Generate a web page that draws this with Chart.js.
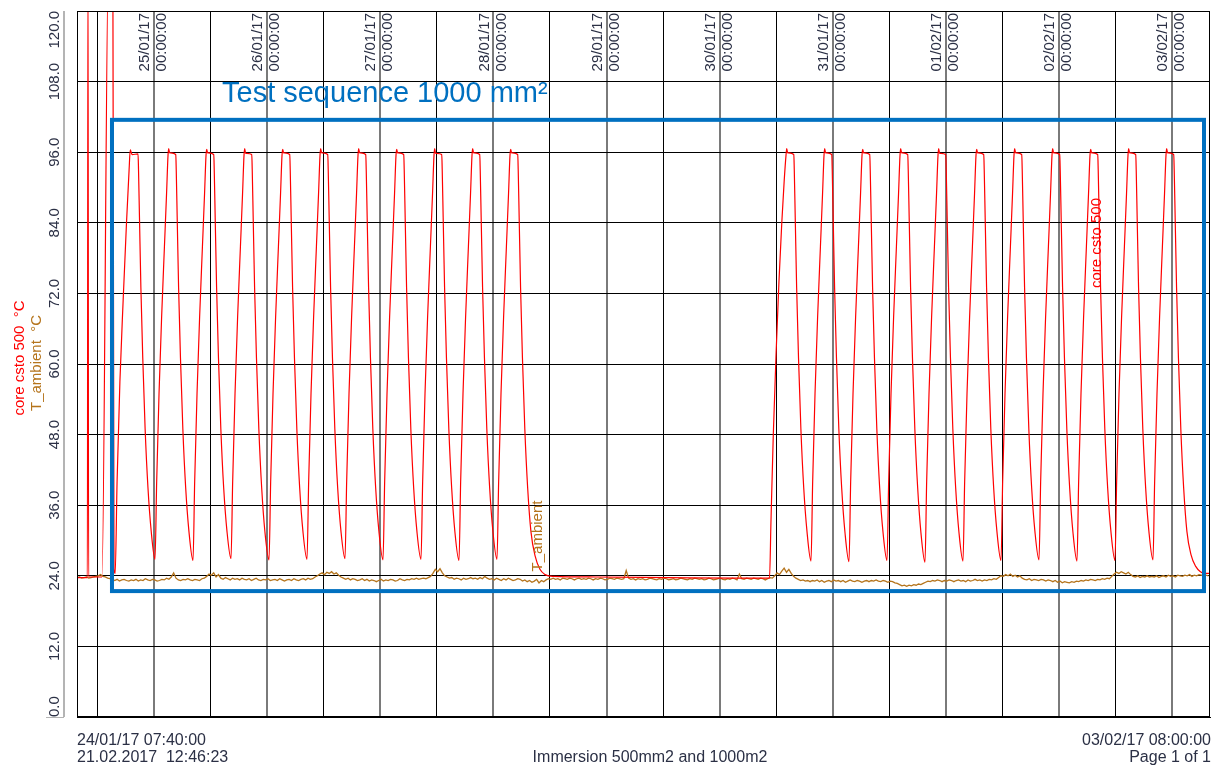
<!DOCTYPE html>
<html><head><meta charset="utf-8">
<script src="https://cdn.jsdelivr.net/npm/chart.js@4"></script>
<style>html,body{margin:0;padding:0;background:#fff}#wrap{width:1215px;height:766px;position:relative}</style>
</head><body><div id="wrap"><canvas id="c"></canvas></div>
<script>
// ---- data (hours after 24/01/17 07:40:00) ----
const totalHours = 240.3333;
const gridHours = [4.3333,16.3333,28.3333,40.3333,52.3333,64.3333,76.3333,88.3333,100.3333,112.3333,124.3333,136.3333,148.3333,160.3333,172.3333,184.3333,196.3333,208.3333,220.3333,232.3333];
const dayLabelHours = [16.3333,40.3333,64.3333,88.3333,112.3333,136.3333,160.3333,184.3333,208.3333,232.3333];
const dayLabels = ['25/01/17','26/01/17','27/01/17','28/01/17','29/01/17','30/01/17','31/01/17','01/02/17','02/02/17','03/02/17'];
const timeLabel = '00:00:00';
const yTicks = [0,12,24,36,48,60,72,84,96,108,120];
const boxHours = [7.42, 239.06];
const boxTemps = [21.4, 101.5];

const coreCsto500 = [
[0,23.7],[2.2,23.7],[2.33,130],[2.46,23.8],[5.3,23.8],[6.7,130],[7.6,130],[7.85,25.2],[8.1,24.4],
[8.5,40],[9.1,57],[9.8,71],[10.5,84],[11.05,93],[11.3,96.4],[11.45,96.1],[11.7,95.6],[12.95,95.7],
[13.05,93],[13.25,85],[13.55,73],[13.95,61],[14.45,49],[15.05,39],[15.75,31.5],[16.55,26.8],
[16.90,40],[17.40,55],[17.95,68],[18.55,80],[19.00,89],[19.31,95.5],[19.45,96.6],[19.65,95.9],[20.95,95.6],[21.05,93],[21.25,85],[21.55,73],[21.95,61],[22.45,49],[23.05,39],[23.75,31.5],[24.61,26.6],
[24.96,40],[25.46,55],[26.01,68],[26.61,80],[27.06,89],[27.37,95.5],[27.51,96.5],[27.71,95.9],[29.01,95.6],[29.11,93],[29.31,85],[29.61,73],[30.01,61],[30.51,49],[31.11,39],[31.81,31.6],[32.67,26.9],
[33.02,40],[33.52,55],[34.07,68],[34.67,80],[35.12,89],[35.43,95.5],[35.57,96.6],[35.77,95.8],[37.07,95.6],[37.17,93],[37.37,85],[37.67,73],[38.07,61],[38.57,49],[39.17,39],[39.87,31.4],[40.73,26.7],
[41.08,40],[41.58,55],[42.13,68],[42.73,80],[43.18,89],[43.49,95.5],[43.63,96.5],[43.83,95.9],[45.13,95.6],[45.23,93],[45.43,85],[45.73,73],[46.13,61],[46.63,49],[47.23,39],[47.93,31.5],[48.79,26.8],
[49.14,40],[49.64,55],[50.19,68],[50.79,80],[51.24,89],[51.55,95.5],[51.69,96.6],[51.89,95.9],[53.19,95.6],[53.29,93],[53.49,85],[53.79,73],[54.19,61],[54.69,49],[55.29,39],[55.99,31.6],[56.85,26.9],
[57.20,40],[57.70,55],[58.25,68],[58.85,80],[59.30,89],[59.61,95.5],[59.75,96.6],[59.95,95.9],[61.25,95.6],[61.35,93],[61.55,85],[61.85,73],[62.25,61],[62.75,49],[63.35,39],[64.05,31.5],[64.91,26.7],
[65.26,40],[65.76,55],[66.31,68],[66.91,80],[67.36,89],[67.67,95.5],[67.81,96.5],[68.01,95.9],[69.31,95.6],[69.41,93],[69.61,85],[69.91,73],[70.31,61],[70.81,49],[71.41,39],[72.11,31.5],[72.97,26.8],
[73.32,40],[73.82,55],[74.37,68],[74.97,80],[75.42,89],[75.73,95.5],[75.87,96.6],[76.07,95.8],[77.37,95.6],[77.47,93],[77.67,85],[77.97,73],[78.37,61],[78.87,49],[79.47,39],[80.17,31.4],[81.03,26.6],
[81.38,40],[81.88,55],[82.43,68],[83.03,80],[83.48,89],[83.79,95.5],[83.93,96.6],[84.13,95.9],[85.43,95.6],[85.53,93],[85.73,85],[86.03,73],[86.43,61],[86.93,49],[87.53,39],[88.23,31.5],[89.09,26.8],
[89.44,40],[89.94,55],[90.49,68],[91.09,80],[91.54,89],[91.85,95.5],[91.99,96.5],[92.19,95.9],[93.49,95.6],[93.59,93],[93.79,85],[94.09,73],[94.49,61],[94.99,49],[95.59,39],[96.29,31.5],[97.2,27.3],[98.2,25.1],[99.3,24.2],[101.0,23.9],[110.0,23.8],[125.0,23.7],[140.0,23.6],[146.9,23.6],
[147.2,33],[147.7,48],[148.3,62],[148.9,74],[149.5,84],[150.0,91],[150.4,95.5],[150.55,96.6],[150.75,95.9],[152.05,95.6],[152.15,93],[152.35,85],[152.65,73],[153.05,61],[153.55,49],[154.15,39],[154.85,31.5],[155.70,26.5],
[156.05,40],[156.55,55],[157.10,68],[157.70,80],[158.15,89],[158.46,95.5],[158.60,96.6],[158.80,95.9],[160.10,95.6],[160.20,93],[160.40,85],[160.70,73],[161.10,61],[161.60,49],[162.20,39],[162.90,31.4],[163.76,26.4],
[164.11,40],[164.61,55],[165.16,68],[165.76,80],[166.21,89],[166.52,95.5],[166.66,96.5],[166.86,95.9],[168.16,95.6],[168.26,93],[168.46,85],[168.76,73],[169.16,61],[169.66,49],[170.26,39],[170.96,31.5],[171.82,26.6],
[172.17,40],[172.67,55],[173.22,68],[173.82,80],[174.27,89],[174.58,95.5],[174.72,96.6],[174.92,95.9],[176.22,95.6],[176.32,93],[176.52,85],[176.82,73],[177.22,61],[177.72,49],[178.32,39],[179.02,31.3],[179.88,26.3],
[180.23,40],[180.73,55],[181.28,68],[181.88,80],[182.33,89],[182.64,95.5],[182.78,96.6],[182.98,95.8],[184.28,95.6],[184.38,93],[184.58,85],[184.88,73],[185.28,61],[185.78,49],[186.38,39],[187.08,31.4],[187.94,26.5],
[188.29,40],[188.79,55],[189.34,68],[189.94,80],[190.39,89],[190.70,95.5],[190.84,96.5],[191.04,95.9],[192.34,95.6],[192.44,93],[192.64,85],[192.94,73],[193.34,61],[193.84,49],[194.44,39],[195.14,31.5],[196.00,26.6],
[196.35,40],[196.85,55],[197.40,68],[198.00,80],[198.45,89],[198.76,95.5],[198.90,96.6],[199.10,95.9],[200.40,95.6],[200.50,93],[200.70,85],[201.00,73],[201.40,61],[201.90,49],[202.50,39],[203.20,31.5],[204.06,26.7],
[204.41,40],[204.91,55],[205.46,68],[206.06,80],[206.51,89],[206.82,95.5],[206.96,96.6],[207.16,95.9],[208.46,95.6],[208.56,93],[208.76,85],[209.06,73],[209.46,61],[209.96,49],[210.56,39],[211.26,31.4],[212.12,26.5],
[212.47,40],[212.97,55],[213.52,68],[214.12,80],[214.57,89],[214.88,95.5],[215.02,96.5],[215.22,95.9],[216.52,95.6],[216.62,93],[216.82,85],[217.12,73],[217.52,61],[218.02,49],[218.62,39],[219.32,31.5],[220.18,26.6],
[220.53,40],[221.03,55],[221.58,68],[222.18,80],[222.63,89],[222.94,95.5],[223.08,96.6],[223.28,95.9],[224.58,95.6],[224.68,93],[224.88,85],[225.18,73],[225.58,61],[226.08,49],[226.68,39],[227.38,31.5],[228.24,26.7],
[228.59,40],[229.09,55],[229.64,68],[230.24,80],[230.69,89],[231.00,95.5],[231.14,96.6],[231.34,95.9],[232.64,95.6],[232.74,93],[232.94,85],[233.24,73],[233.64,61],[234.14,49],[234.74,39],[235.44,31.5],[236.3,27.6],[237.3,25.6],[238.3,24.7],[239.3,24.4],[240.33,24.4]
];

const ambientStepHours = 0.5;
const tAmbient = [
23.7,23.8,23.6,23.7,23.8,23.6,23.7,23.8,23.9,24.0,24.2,23.9,23.8,23.6,23.5,23.4,23.2,23.4,23.1,23.3,23.4,23.2,23.1,23.3,
23.2,23.4,23.1,23.3,23.2,23.5,23.3,23.2,23.4,23.3,23.1,23.2,23.4,23.3,23.6,23.4,23.8,24.5,23.6,23.3,23.2,23.4,23.3,23.5,
23.3,23.2,23.4,23.3,23.2,23.5,23.6,23.9,24.3,24.1,24.5,23.8,24.2,23.6,23.4,23.7,23.5,23.3,23.6,23.4,23.5,23.3,23.6,23.4,
23.3,23.5,23.2,23.4,23.6,23.3,23.2,23.4,23.3,23.5,23.2,23.3,23.4,23.2,23.5,23.3,23.1,23.3,23.4,23.2,23.5,23.3,23.2,23.4,
23.5,23.3,23.6,23.4,23.5,23.8,24.0,24.3,24.5,24.2,24.6,24.4,24.7,24.3,24.5,24.1,23.8,23.6,23.4,23.6,23.3,23.5,23.4,23.2,
23.3,23.5,23.2,23.4,23.1,23.3,23.2,23.0,23.2,23.4,23.1,23.3,23.2,23.4,23.3,23.1,23.2,23.5,23.3,23.2,23.4,23.3,23.5,23.4,
23.6,23.4,23.5,23.6,23.5,23.7,23.9,24.4,25.1,24.7,25.2,24.5,24.0,23.8,23.6,23.7,23.4,23.6,23.5,23.3,23.6,23.4,23.5,23.7,
23.5,23.6,23.4,23.7,23.5,23.9,23.6,23.4,23.5,23.3,23.6,23.4,23.2,23.5,23.3,23.6,23.4,23.2,23.3,23.5,23.4,23.1,23.3,23.0,
23.2,22.9,23.1,23.4,22.8,23.2,23.0,23.3,23.5,23.4,23.6,23.4,23.5,23.3,23.6,23.5,23.4,23.6,23.5,23.3,23.5,23.6,23.4,23.5,
23.4,23.6,23.5,23.3,23.5,23.4,23.6,23.5,23.3,23.4,23.6,23.5,23.4,23.6,23.5,23.4,23.5,24.9,23.6,23.4,23.5,23.3,23.5,23.4,
23.5,23.3,23.4,23.6,23.5,23.4,23.3,23.5,23.4,23.6,23.5,23.3,23.4,23.5,23.3,23.4,23.6,23.5,23.4,23.3,23.5,23.4,23.6,23.5,
23.4,23.5,23.3,23.4,23.6,23.5,23.3,23.4,23.5,23.6,23.4,23.3,23.5,23.4,23.6,23.5,23.3,24.3,23.5,23.4,23.6,23.5,23.4,23.6,
23.5,23.4,23.6,23.5,23.3,23.5,23.7,23.6,24.0,24.5,24.2,24.8,25.3,24.6,25.1,24.4,23.9,23.6,23.4,23.2,23.3,23.1,23.2,23.0,
23.2,23.1,23.3,23.0,23.2,22.9,23.1,23.2,23.0,23.3,23.1,23.2,23.0,23.2,22.9,23.1,23.3,23.1,23.0,23.2,23.1,22.9,23.1,23.2,
23.0,23.2,23.1,23.3,23.1,23.0,23.2,23.1,22.9,23.1,23.0,22.8,22.7,22.5,22.3,22.4,22.2,22.4,22.3,22.5,22.4,22.6,22.5,22.7,
22.9,23.1,23.0,23.2,23.1,23.3,23.2,23.0,23.2,23.1,23.3,23.2,23.0,23.2,23.3,23.1,23.2,23.0,23.3,23.1,23.2,23.4,23.2,23.3,
23.1,23.3,23.2,23.4,23.3,23.5,23.4,23.7,24.0,23.9,24.2,24.0,24.3,23.9,24.1,23.8,24.0,23.6,23.4,23.3,23.5,23.2,23.4,23.3,
23.2,23.4,23.3,23.1,23.3,23.2,23.0,23.2,22.9,23.1,22.8,23.0,22.9,22.8,23.0,22.9,23.1,23.0,23.2,23.1,23.3,23.2,23.4,23.3,
23.2,23.4,23.3,23.5,23.4,23.6,23.5,23.9,24.3,24.6,24.4,24.7,24.5,24.3,24.6,24.2,23.9,23.8,24.0,23.7,23.9,23.8,24.0,23.8,
23.9,23.8,24.0,23.7,23.9,24.0,23.8,24.1,23.9,24.0,23.8,24.1,24.0,23.9,24.1,24.0,24.2,23.9,24.1,24.0,24.2,24.1,23.9,24.1,
24.0
];

// ---- styles ----
const RED = '#ff0000';
const BROWN = '#b5741c';
const BLUE = '#0070c0';
const TXT = '#2b3045';
const FONT = '"Liberation Sans", Arial, sans-serif';

function isDay(v){ return dayLabelHours.some(d => Math.abs(d - v) < 0.01); }

function rotText(ctx, text, x, y, align){
  ctx.save(); ctx.translate(x, y); ctx.rotate(-Math.PI/2);
  ctx.textAlign = align; ctx.textBaseline = 'middle';
  ctx.fillText(text, 0, 0); ctx.restore();
}

const overlay = {
  id: 'overlay',
  afterDatasetsDraw(chart){
    const {ctx, chartArea: a, scales: {x, y}} = chart;
    // frame
    ctx.save();
    ctx.strokeStyle = '#000'; ctx.lineWidth = 1;
    ctx.strokeRect(Math.round(a.left)+0.5, Math.round(a.top)+0.5, Math.round(a.right-a.left)-1, Math.round(a.bottom-a.top)-1);
    // blue box
    ctx.strokeStyle = BLUE; ctx.lineWidth = 4;
    const x0 = x.getPixelForValue(boxHours[0]), x1 = x.getPixelForValue(boxHours[1]);
    const y0 = y.getPixelForValue(boxTemps[1]), y1 = y.getPixelForValue(boxTemps[0]);
    ctx.strokeRect(x0, y0, x1-x0, y1-y0);
    ctx.restore();
  },
  afterDraw(chart){
    const {ctx, chartArea: a, scales: {x, y}} = chart;
    ctx.save();
    // light grey axis line left of the plot
    ctx.strokeStyle = '#b4b4b4'; ctx.lineWidth = 2;
    ctx.beginPath(); ctx.moveTo(64, a.top); ctx.lineTo(64, a.bottom); ctx.stroke();
    ctx.lineWidth = 1;
    ctx.beginPath(); ctx.moveTo(46, a.bottom+0.5); ctx.lineTo(64, a.bottom+0.5); ctx.stroke();
    // y tick labels
    ctx.fillStyle = TXT; ctx.font = '15px ' + FONT;
    yTicks.forEach((v, i) => {
      const py = y.getPixelForValue(v);
      const align = i === 0 ? 'left' : (i === yTicks.length-1 ? 'right' : 'center');
      rotText(ctx, v.toFixed(1), 55, py, align);
    });
    // x day labels inside plot top
    dayLabels.forEach((lab, i) => {
      const px = x.getPixelForValue(dayLabelHours[i]);
      rotText(ctx, lab, px - 9, a.top + 2, 'right');
      rotText(ctx, timeLabel, px + 8, a.top + 2, 'right');
    });
    // axis titles
    ctx.fillStyle = RED; rotText(ctx, 'core csto 500  \u00B0C', 20, 358, 'center');
    ctx.fillStyle = BROWN; rotText(ctx, 'T_ambient  \u00B0C', 37, 363, 'center');
    // in-plot series labels
    ctx.fillStyle = RED; rotText(ctx, 'core csto 500', 1097, 243, 'center');
    ctx.fillStyle = BROWN; rotText(ctx, 'T_ambient', 538, 536, 'center');
    // box title
    ctx.fillStyle = BLUE; ctx.font = '29px ' + FONT;
    ctx.textAlign = 'left'; ctx.textBaseline = 'alphabetic';
    ctx.fillText('Test sequence 1000 mm\u00B2', 222, 102);
    // footer
    ctx.fillStyle = TXT; ctx.font = '16px ' + FONT;
    ctx.textAlign = 'left';
    ctx.fillText('24/01/17 07:40:00', 77, 745);
    ctx.fillText('21.02.2017  12:46:23', 77, 762);
    ctx.textAlign = 'center';
    ctx.fillText('Immersion 500mm2 and 1000m2', 650, 762);
    ctx.textAlign = 'right';
    ctx.fillText('03/02/17 08:00:00', 1211, 745);
    ctx.fillText('Page 1 of 1', 1211, 762);
    ctx.restore();
  }
};

new Chart(document.getElementById('c'), {
  type: 'line',
  data: {
    datasets: [
      { label: 'core csto 500', data: coreCsto500, borderColor: RED, borderWidth: 1.2,
        pointRadius: 0, cubicInterpolationMode: 'monotone', order: 0 },
      { label: 'T_ambient', data: tAmbient.map((v, i) => ({x: i * ambientStepHours, y: v})),
        borderColor: BROWN, borderWidth: 1.3, pointRadius: 0, tension: 0, order: 1 }
    ]
  },
  options: {
    responsive: true, maintainAspectRatio: false, animation: false,
    layout: { padding: { left: 77, top: 11, right: 5, bottom: 49 } },
    plugins: { legend: { display: false }, tooltip: { enabled: false } },
    scales: {
      x: {
        type: 'linear', min: 0, max: totalHours,
        afterBuildTicks: s => { s.ticks = gridHours.map(v => ({ value: v })); },
        ticks: { display: false },
        grid: {
          drawTicks: false,
          color: c => isDay(c.tick.value) ? '#7a7a7a' : '#000',
          lineWidth: c => isDay(c.tick.value) ? 2 : 1
        },
        border: { display: true, color: '#000', width: 1 }
      },
      y: {
        type: 'linear', min: 0, max: 120,
        afterBuildTicks: s => { s.ticks = yTicks.map(v => ({ value: v })); },
        ticks: { display: false },
        grid: { drawTicks: false, color: '#000', lineWidth: 1 },
        border: { display: true, color: '#000', width: 1 }
      }
    }
  },
  plugins: [overlay]
});
</script>
</body></html>
